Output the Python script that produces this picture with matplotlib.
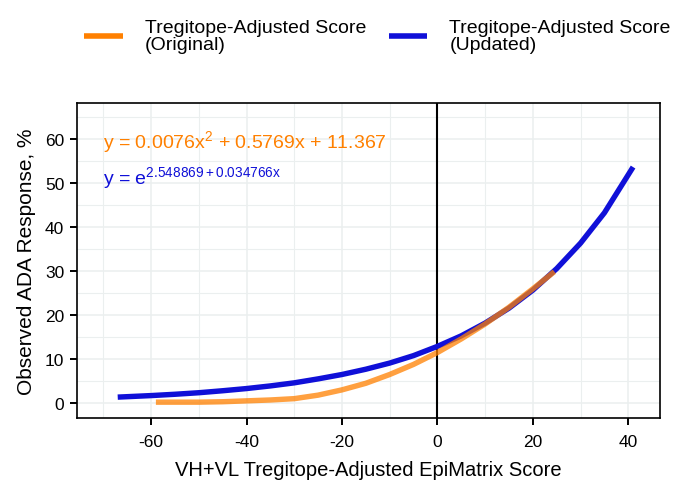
import matplotlib
matplotlib.use("Agg")
import matplotlib.pyplot as plt
from matplotlib.ticker import MultipleLocator

plt.rcParams["font.family"] = ["Liberation Sans", "DejaVu Sans"]
plt.rcParams["mathtext.fontset"] = "custom"
plt.rcParams["mathtext.rm"] = "Liberation Sans"
plt.rcParams["mathtext.it"] = "Liberation Sans"
plt.rcParams["axes.unicode_minus"] = False

# values
orig_x = [-59, -55, -50, -45, -40, -35, -30, -25, -20, -15, -10, -5, 0, 5, 10, 15, 20, 24.5]
orig_y = [0.1, 0.1, 0.1, 0.2, 0.4, 0.6, 0.9, 1.7, 2.9, 4.4, 6.4, 8.7, 11.4, 14.5, 17.9, 21.7, 25.9, 29.8]

upd_x = [-67, -60, -55, -50, -45, -40, -35, -30, -25, -20, -15, -10, -5, 0,
         5, 10, 15, 20, 25, 30, 35, 41]
upd_y = [1.25, 1.6, 1.9, 2.25, 2.7, 3.2, 3.8, 4.5, 5.4, 6.4, 7.6, 9.0, 10.7, 12.8,
         15.2, 18.1, 21.5, 25.6, 30.5, 36.3, 43.2, 53.6]

legend_labels = ["Tregitope-Adjusted Score\n(Original)", "Tregitope-Adjusted Score\n(Updated)"]
orange = "#FF8000"
blue = "#1010D8"

fig = plt.figure(figsize=(6.75, 4.81), dpi=100)
ax = fig.add_axes([0.1136, 0.128, 0.8646, 0.656])

ax.axvline(0, color="black", lw=1.5, zorder=2)
ax.plot(upd_x, upd_y, color=blue, lw=3.9, solid_capstyle="butt", zorder=3)
ax.plot(orig_x, orig_y, color=orange, lw=3.9, alpha=0.75, solid_capstyle="butt", zorder=4)

ax.text(-70, 59.5, r"y = 0.0076x$^2$ + 0.5769x + 11.367", color=orange, fontsize=14,
        va="center", ha="left")
ax.text(-70, 51.3, r"y = e$^{2.548869+0.034766x}$", color=blue, fontsize=14,
        va="center", ha="left")

ax.set_xlim(-75.6, 46.7)
ax.set_ylim(-3.6, 68.2)
ax.xaxis.set_major_locator(MultipleLocator(20))
ax.xaxis.set_minor_locator(MultipleLocator(10))
ax.yaxis.set_major_locator(MultipleLocator(10))
ax.yaxis.set_minor_locator(MultipleLocator(5))
ax.grid(which="major", color="#EBEFEF", lw=1.1)
ax.grid(which="minor", color="#EBEFEF", lw=0.8)
ax.set_axisbelow(True)
ax.tick_params(which="minor", length=0)
ax.tick_params(which="major", length=5, width=1.4, labelsize=12.5, color="black", pad=4)
ax.tick_params(axis="x", pad=6)
for s in ax.spines.values():
    s.set_linewidth(1.2)

ax.set_xlabel("VH+VL Tregitope-Adjusted EpiMatrix Score", fontsize=14.5, labelpad=8)
ax.set_ylabel("Observed ADA Response, %", fontsize=15, labelpad=6)

h1, = ax.plot([], [], color=orange, lw=4, solid_capstyle="butt")
h2, = ax.plot([], [], color=blue, lw=4, solid_capstyle="butt")
leg = fig.legend([h1, h2], legend_labels, loc="upper left", bbox_to_anchor=(0.099, 0.995),
                 ncol=2, frameon=False, fontsize=14, handlelength=2.0, handletextpad=1.13,
                 columnspacing=1.13, labelspacing=0.3)
for t in leg.get_texts():
    t.set_linespacing(1.0)

fig.savefig("out.png", dpi=100)
